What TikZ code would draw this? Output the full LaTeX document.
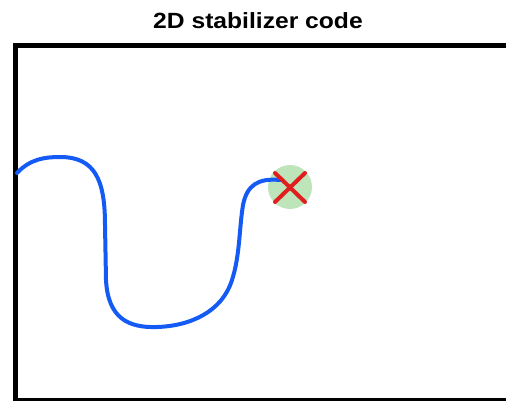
\documentclass[tikz,border=0pt]{standalone}
\usepackage{fontspec}
\setmainfont{Liberation Sans}
\usetikzlibrary{calc}
\begin{document}
\begin{tikzpicture}[x=1pt,y=-1pt,
  framestyle/.style={line width=5pt,black},
  pathstyle/.style={line width=4pt,draw={rgb,255:red,20;green,90;blue,245},line cap=round},
  errdot/.style={circle,minimum size=44pt,inner sep=0pt,fill={rgb,255:red,190;green,228;blue,185}},
  crossstyle/.style={line width=4pt,draw={rgb,255:red,225;green,30;blue,30},line cap=round},
  titlestyle/.style={font=\fontsize{22}{26}\selectfont\bfseries,inner sep=0pt}]
\useasboundingbox (0,0) rectangle (506,401);
\node[titlestyle,xscale=1.12] (title) at (258,21) {2D stabilizer code};
\draw[framestyle] (15.5,401) -- (15.5,45.5) -- (506,45.5);
\draw[framestyle] (15.5,400) -- (506,400);
\node[errdot] (err) at (290,187) {};
\coordinate (start) at (17,173);
\draw[pathstyle] (start) .. controls (30,159) and (45,157) .. (60,157)
  .. controls (95,157) and (105,180) .. (105,225)
  -- (106,280)
  .. controls (108,318) and (128,328) .. (157,327)
  .. controls (190,326) and (222,312) .. (232,280)
  .. controls (240,255) and (239,230) .. (243,205)
  .. controls (247,185) and (258,178) .. (280,180);
\draw[crossstyle] ($(err)+(-15,-14)$) -- ($(err)+(15,15)$);
\draw[crossstyle] ($(err)+(15,-14)$) -- ($(err)+(-15,15)$);
\end{tikzpicture}
\end{document}
